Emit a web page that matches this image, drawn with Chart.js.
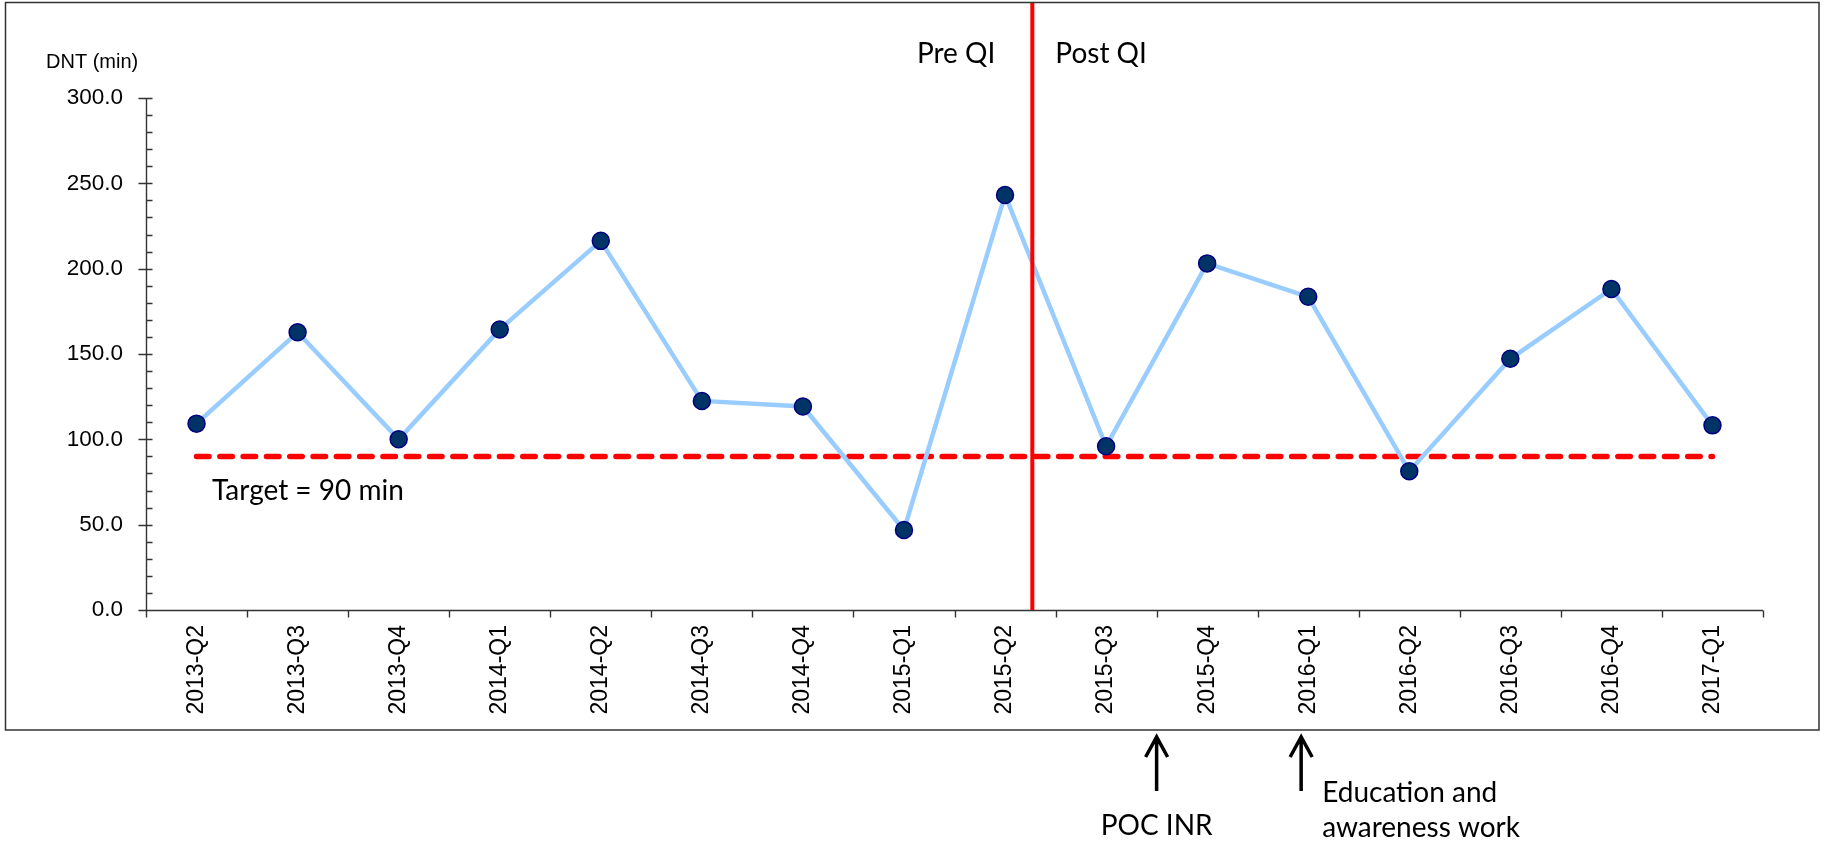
<!DOCTYPE html>
<html>
<head>
<meta charset="utf-8">
<title>DNT by quarter</title>
<script src="https://cdn.jsdelivr.net/npm/chart.js@4.4.1/dist/chart.umd.min.js"></script>
<style>
html, body { margin: 0; padding: 0; background: #fff; }
canvas { display: block; }
</style>
</head>
<body>
<canvas id="dntChart" width="1825" height="843"></canvas>
<script>
const quarters = [
  '2013-Q2', '2013-Q3', '2013-Q4',
  '2014-Q1', '2014-Q2', '2014-Q3', '2014-Q4',
  '2015-Q1', '2015-Q2', '2015-Q3', '2015-Q4',
  '2016-Q1', '2016-Q2', '2016-Q3', '2016-Q4',
  '2017-Q1'
];
const dntValues = [109.2, 162.7, 100.0, 164.4, 216.3, 122.5, 119.2, 46.9,
  243.2, 95.9, 203.1, 183.5, 81.3, 147.2, 188.1, 108.2];
const targetMinutes = 90;
const yTicks = [0, 50, 100, 150, 200, 250, 300];
const minorStep = 10;

// QI start falls part way through 2015-Q2; interventions marked under the axis
const qiSplit = 8.27;
const interventions = [
  { at: 9.5, lines: ['POC INR'], side: 'below' },
  { at: 10.93, lines: ['Education and', 'awareness work'], side: 'right' }
];

const axisInk = '#333';
const calibriLike = 'Lato, "Liberation Sans", sans-serif';

const overlay = {
  id: 'overlay',
  beforeDatasetsDraw(chart) {
    const {ctx, scales: {x, y}} = chart;
    const left = Math.round(x.left) + 0.5;
    const bottom = Math.round(y.bottom) + 0.5;
    ctx.save();
    ctx.strokeStyle = axisInk;
    ctx.lineWidth = 1.4;
    ctx.beginPath();
    // value axis
    ctx.moveTo(left, y.top);
    ctx.lineTo(left, bottom + 7);
    for (let v = 0; v <= yTicks[yTicks.length - 1]; v += minorStep) {
      const py = Math.round(y.getPixelForValue(v)) + 0.5;
      const major = yTicks.includes(v);
      ctx.moveTo(major ? left - 8 : left, py);
      ctx.lineTo(left + 6, py);
    }
    // category axis, ticks between quarters
    ctx.moveTo(left, bottom);
    ctx.lineTo(x.right, bottom);
    for (let i = 0; i <= quarters.length; i++) {
      const px = Math.round(x.getPixelForValue(i - 0.5)) + 0.5;
      ctx.moveTo(px, bottom);
      ctx.lineTo(px, bottom + 7);
    }
    ctx.stroke();
    ctx.restore();
  },
  afterDatasetsDraw(chart) {
    const {ctx, scales: {x, y}} = chart;
    const qx = x.getPixelForValue(qiSplit);
    ctx.save();
    ctx.strokeStyle = '#FF0000';
    ctx.lineWidth = 4;
    ctx.beginPath();
    ctx.moveTo(qx, 2);
    ctx.lineTo(qx, y.bottom);
    ctx.stroke();
    ctx.restore();
  },
  afterDraw(chart) {
    const {ctx, scales: {x, y}} = chart;
    const qx = x.getPixelForValue(qiSplit);
    ctx.save();
    ctx.fillStyle = '#000';
    ctx.textBaseline = 'alphabetic';

    ctx.font = '20px "Liberation Sans"';
    ctx.textAlign = 'left';
    ctx.fillText('DNT (min)', 46, 68);

    ctx.font = '28px ' + calibriLike;
    ctx.textAlign = 'right';
    ctx.fillText('Pre QI', qx - 37, 63);
    ctx.textAlign = 'left';
    ctx.fillText('Post QI', qx + 23, 63);
    ctx.fillText('Target = 90 min', x.left + 66, y.getPixelForValue(targetMinutes) + 44);

    // arrows pointing up at the axis
    ctx.strokeStyle = '#000';
    ctx.lineWidth = 3.5;
    interventions.forEach(item => {
      const ax = x.getPixelForValue(item.at);
      const tip = 737;
      ctx.beginPath();
      ctx.moveTo(ax, tip + 1);
      ctx.lineTo(ax, 791);
      ctx.moveTo(ax - 11, tip + 20);
      ctx.lineTo(ax, tip);
      ctx.lineTo(ax + 11, tip + 20);
      ctx.stroke();
      if (item.side === 'below') {
        ctx.textAlign = 'center';
        ctx.fillText(item.lines[0], ax, 835);
      } else {
        ctx.textAlign = 'left';
        item.lines.forEach((line, k) => ctx.fillText(line, ax + 21, 802 + k * 35));
      }
    });

    // outer frame round the plot
    ctx.strokeStyle = axisInk;
    ctx.lineWidth = 1.5;
    ctx.strokeRect(5.5, 2.5, 1813.5, 727.5);
    ctx.restore();
  }
};

new Chart(document.getElementById('dntChart'), {
  type: 'line',
  data: {
    labels: quarters,
    datasets: [
      {
        label: 'DNT (min)',
        data: dntValues,
        borderColor: '#99CCFF',
        borderWidth: 4.5,
        tension: 0,
        pointRadius: 8.5,
        pointHoverRadius: 8.5,
        pointBackgroundColor: '#003366',
        pointBorderColor: '#000080',
        pointBorderWidth: 1.5
      },
      {
        label: 'Target',
        data: quarters.map(() => targetMinutes),
        borderColor: '#FF0000',
        borderWidth: 5.5,
        borderDash: [12.5, 10.8],
        borderCapStyle: 'round',
        pointRadius: 0
      }
    ]
  },
  options: {
    responsive: false,
    animation: false,
    devicePixelRatio: 1,
    layout: { padding: { top: 98, right: 62, left: 0, bottom: 0 } },
    plugins: { legend: { display: false }, tooltip: { enabled: false } },
    scales: {
      x: {
        offset: true,
        grid: { display: false, drawTicks: false },
        border: { display: false },
        ticks: {
          autoSkip: false,
          minRotation: 90,
          maxRotation: 90,
          padding: 15,
          color: '#000',
          font: { family: '"Liberation Sans"', size: 23 }
        },
        afterFit(s) { s.height = 233; }
      },
      y: {
        min: 0,
        max: 300,
        grid: { display: false, drawTicks: false },
        border: { display: false },
        ticks: {
          padding: 23,
          color: '#000',
          font: { family: '"Liberation Sans"', size: 22.5 },
          callback: v => v.toFixed(1)
        },
        afterBuildTicks(s) { s.ticks = yTicks.map(v => ({ value: v })); },
        afterFit(s) { s.width = 146; }
      }
    }
  },
  plugins: [overlay]
});
</script>
</body>
</html>
